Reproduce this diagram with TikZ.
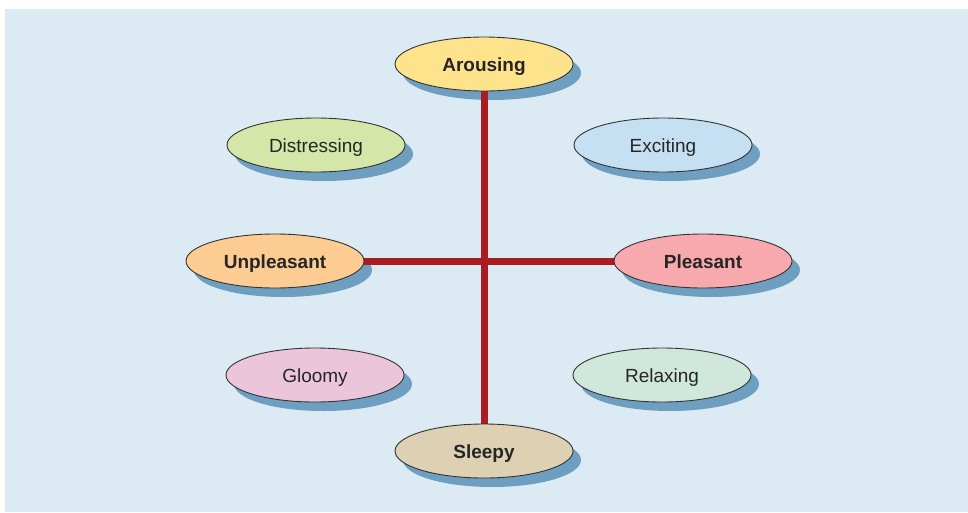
\documentclass[tikz,border=0pt]{standalone}
\usepackage{fontspec}
\setmainfont{Liberation Sans}
\usetikzlibrary{shapes.geometric}
\definecolor{bg}{HTML}{DCEAF3}
\definecolor{shad}{HTML}{6E9FC0}
\definecolor{axisred}{HTML}{A81C22}
\definecolor{cAro}{HTML}{FCE38C}
\definecolor{cDis}{HTML}{D5E7A8}
\definecolor{cExc}{HTML}{C6E0F3}
\definecolor{cUnp}{HTML}{FDCC92}
\definecolor{cPle}{HTML}{F8A9AD}
\definecolor{cGlo}{HTML}{EBC6DB}
\definecolor{cRel}{HTML}{CFE8DB}
\definecolor{cSle}{HTML}{DDD0B3}
\tikzset{
  emo/.style={ellipse, draw=black!80, line width=0.9pt, minimum width=178pt, minimum height=54pt, inner sep=0pt, text height=14pt, text depth=0pt, font=\fontsize{19}{21}\selectfont, text=black!85},
  mainemo/.style={emo, font=\fontsize{19}{21}\selectfont\bfseries},
  shadowemo/.style={ellipse, fill=shad, minimum width=178pt, minimum height=54pt, inner sep=0pt},
  axisline/.style={draw=axisred, line width=7pt}
}
\begin{document}
\begin{tikzpicture}[x=1pt,y=-1pt]
\useasboundingbox (0,0) rectangle (968,512);
\fill[white] (0,0) rectangle (968,512);
\fill[bg] (5,9) rectangle (968,512);
% shadows
\foreach \x/\y in {484/64,316/145,663/145,275/261,703/261,315/375,662/375,484/451}
  \node[shadowemo] at (\x+8,\y+9) {};
% axes
\coordinate (vt) at (484,80);
\coordinate (vb) at (484,435);
\coordinate (hl) at (355,261);
\coordinate (hr) at (620,261);
\draw[axisline] (vt) -- (vb);
\draw[axisline] (hl) -- (hr);
% nodes
\node[mainemo, fill=cAro] (aro) at (484,64) {Arousing};
\node[emo, fill=cDis] (dis) at (316,145) {Distressing};
\node[emo, fill=cExc] (exc) at (663,145) {Exciting};
\node[mainemo, fill=cUnp] (unp) at (275,261) {Unpleasant};
\node[mainemo, fill=cPle] (ple) at (703,261) {Pleasant};
\node[emo, fill=cGlo] (glo) at (315,375) {Gloomy};
\node[emo, fill=cRel] (rel) at (662,375) {Relaxing};
\node[mainemo, fill=cSle] (sle) at (484,451) {Sleepy};
\end{tikzpicture}
\end{document}
